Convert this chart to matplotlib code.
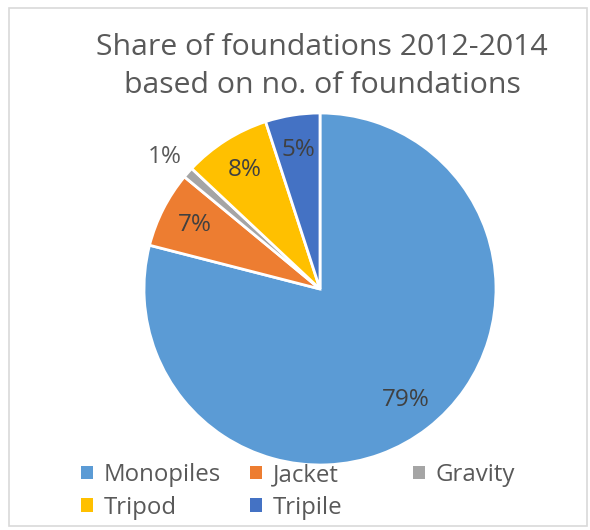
import matplotlib

matplotlib.use("Agg")
import matplotlib.pyplot as plt
from matplotlib.patches import Rectangle

plt.rcParams["font.family"] = ["Open Sans", "DejaVu Sans"]

labels = ["Monopiles", "Jacket", "Gravity", "Tripod", "Tripile"]
shares = [79, 7, 1, 8, 5]
colors = ["#5B9BD5", "#ED7D31", "#A5A5A5", "#FFC000", "#4472C4"]

fig = plt.figure(figsize=(5.9, 5.3), dpi=100)
fig.patch.set_facecolor("white")

# frame around the chart area, like the Excel chart border
fig.patches.append(Rectangle((9 / 590, 4 / 530), 578 / 590, 518 / 530,
                             transform=fig.transFigure, fill=False,
                             edgecolor="#D9D9D9", lw=1.2))

ax = fig.add_axes([144 / 590, 65 / 530, 352 / 590, 352 / 530])
wedges, texts, autotexts = ax.pie(
    shares, colors=colors, startangle=90, counterclock=False,
    autopct="%d%%", pctdistance=0.8,
    wedgeprops={"edgecolor": "white", "linewidth": 2},
    textprops={"fontsize": 17.5, "color": "#404040"},
)
ax.set_xlim(-1, 1)
ax.set_ylim(-1, 1)

# the 1% label sits outside its thin slice
small = autotexts[2]
x, y = small.get_position()
small.set_position((x * 1.47, y * 1.42))
small.set_color("#595959")

fig.text(0.546, 0.875, "Share of foundations 2012-2014\nbased on no. of foundations",
         ha="center", va="center", fontsize=21.8, color="#595959", linespacing=1.4)

leg_kw = dict(frameon=False, fontsize=17.3, handlelength=0.5, handleheight=0.5,
              handletextpad=0.45, labelspacing=0.36, labelcolor="#595959",
              borderaxespad=0, borderpad=0)

# Excel fills the legend row by row: two columns on the left, Gravity on the right
left = [0, 3, 1, 4]
leg1 = fig.legend([wedges[i] for i in left], [labels[i] for i in left],
                  loc="center left", bbox_to_anchor=(81 / 590, 0.073), ncol=2,
                  columnspacing=1.2, **leg_kw)
leg2 = fig.legend([wedges[2]], [labels[2]],
                  loc="upper left", bbox_to_anchor=(413 / 590, 0.1265), **leg_kw)
for leg in (leg1, leg2):
    for h in leg.legend_handles:
        h.set_edgecolor("none")

fig.savefig("out.png", dpi=100)
